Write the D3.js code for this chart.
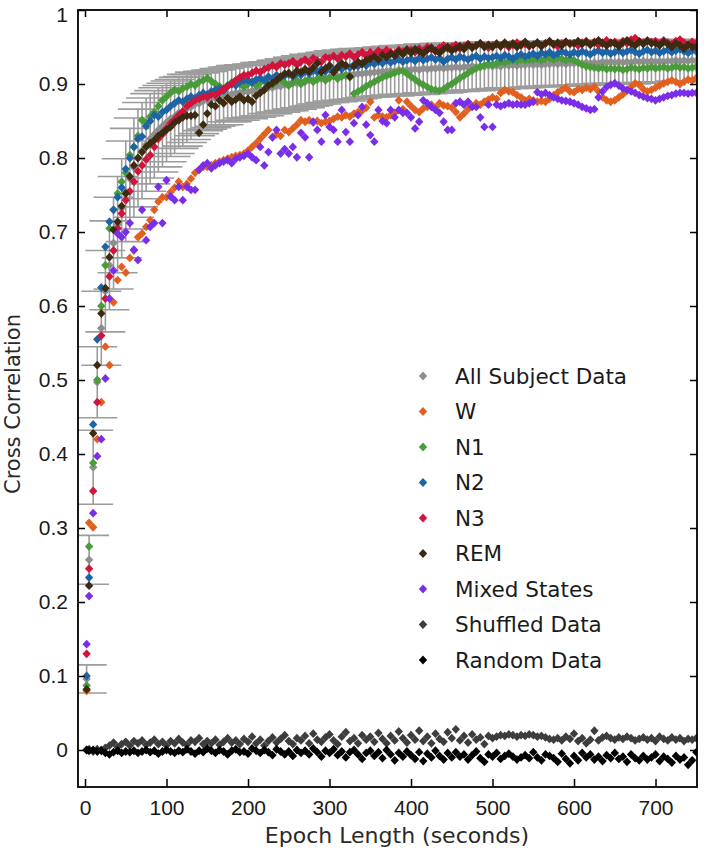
<!DOCTYPE html>
<html><head><meta charset="utf-8">
<script src="https://cdn.jsdelivr.net/npm/d3@7"></script>
<style>body{margin:0;background:#fff}</style>
</head><body>
<svg id="c" width="706" height="853"></svg>
<script>
const epochs = [2,5,10,15,20,25,30,35,40,45,
50,55,60,65,70,75,80,85,90,95,
100,105,110,115,120,125,130,135,140,145,
150,155,160,165,170,175,180,185,190,195,
200,205,210,215,220,225,230,235,240,245,
250,255,260,265,270,275,280,285,290,295,
300,305,310,315,320,325,330,335,340,345,
350,355,360,365,370,375,380,385,390,395,
400,405,410,415,420,425,430,435,440,445,
450,455,460,465,470,475,480,485,490,495,
500,505,510,515,520,525,530,535,540,545,
550,555,560,565,570,575,580,585,590,595,
600,605,610,615,620,625,630,635,640,645,
650,655,660,665,670,675,680,685,690,695,
700,705,710,715,720,725,730,735,740,745,
750];

const allSubject = [.096,.257,.382,.497,.570,.620,.655,.685,.710,.732,
.755,.772,.787,.800,.810,.818,.826,.832,.838,.843,
.848,.853,.856,.861,.863,.867,.869,.873,.874,.877,
.878,.880,.881,.883,.883,.886,.886,.888,.888,.890,
.889,.891,.891,.893,.893,.895,.895,.897,.897,.899,
.899,.901,.901,.903,.903,.905,.905,.907,.907,.909,
.909,.911,.910,.912,.911,.913,.913,.914,.914,.915,
.915,.916,.916,.917,.917,.918,.917,.919,.918,.919,
.919,.920,.919,.921,.920,.921,.921,.922,.921,.922,
.922,.923,.922,.923,.923,.924,.923,.924,.924,.925,
.924,.925,.924,.926,.925,.926,.925,.926,.926,.927,
.926,.927,.926,.927,.927,.928,.927,.928,.927,.928,
.928,.929,.928,.929,.928,.929,.928,.930,.929,.930,
.929,.930,.929,.930,.929,.931,.930,.931,.930,.931,
.930,.931,.930,.931,.931,.932,.931,.932,.931,.932,
.931];

const allSubjectErr = [.019,.033,.050,.048,.050,.055,.060,.062,.065,.067,
.068,.068,.067,.066,.065,.063,.061,.059,.057,.055,
.053,.051,.050,.048,.047,.046,.044,.043,.041,.040,
.039,.039,.038,.038,.038,.037,.037,.037,.037,.036,
.036,.036,.036,.036,.036,.035,.035,.035,.035,.035,
.035,.035,.035,.035,.035,.035,.034,.034,.034,.034,
.034,.034,.034,.034,.034,.034,.034,.034,.033,.033,
.033,.033,.033,.033,.033,.033,.033,.033,.033,.033,
.033,.033,.033,.033,.033,.033,.033,.033,.033,.033,
.032,.032,.032,.032,.032,.032,.032,.032,.032,.032,
.031,.031,.031,.031,.031,.031,.031,.031,.031,.031,
.030,.030,.030,.030,.030,.030,.030,.030,.030,.030,
.030,.030,.030,.029,.029,.029,.029,.029,.029,.029,
.029,.029,.029,.029,.029,.029,.029,.029,.029,.029,
.028,.028,.028,.028,.028,.028,.028,.028,.028,.028,
.028];

const W = [.080,.307,.301,.420,.470,.545,.520,.605,.635,.653,
.645,.665,.675,.693,.698,.707,.716,.730,.741,.747,
.747,.754,.760,.768,.761,.765,.772,.780,.784,.788,
.788,.790,.793,.795,.797,.799,.801,.803,.804,.806,
.810,.815,.820,.826,.832,.838,.828,.832,.830,.838,
.835,.840,.845,.851,.849,.851,.848,.850,.847,.849,
.850,.853,.856,.855,.858,.856,.860,.862,.864,.868,
.876,.855,.858,.856,.855,.858,.861,.878,.866,.876,
.870,.865,.862,.867,.869,.872,.868,.874,.871,.870,
.868,.862,.855,.860,.866,.870,.874,.872,.876,.879,
.882,.880,.888,.892,.890,.889,.885,.882,.878,.880,
.878,.876,.877,.876,.880,.885,.889,.892,.895,.890,
.889,.893,.892,.895,.893,.896,.890,.882,.878,.876,
.878,.882,.886,.891,.896,.901,.899,.893,.890,.892,
.895,.898,.901,.903,.905,.903,.900,.903,.906,.905,
.908];

const N1 = [.087,.275,.388,.500,.600,.655,.705,.730,.752,.768,
.780,.804,.815,.830,.851,.847,.856,.862,.870,.878,
.883,.888,.892,.890,.894,.896,.900,.898,.903,.905,
.908,.904,.900,.897,.894,.898,.902,.905,.900,.896,
.900,.903,.898,.902,.905,.901,.899,.903,.906,.902,
.898,.902,.905,.900,.904,.907,.903,.906,.909,.905,
.908,.911,.907,.910,.912,.909,.887,.890,.893,.897,
.900,.903,.906,.909,.911,.913,.915,.917,.918,.914,
.910,.906,.902,.899,.896,.893,.892,.891,.893,.897,
.900,.904,.908,.911,.915,.918,.921,.923,.925,.927,
.926,.928,.930,.929,.931,.932,.931,.933,.932,.933,
.933,.934,.932,.934,.935,.933,.935,.934,.932,.934,
.932,.929,.926,.924,.923,.922,.921,.922,.920,.921,
.920,.921,.919,.920,.922,.921,.920,.922,.921,.923,
.921,.922,.923,.921,.922,.924,.922,.923,.921,.922,
.923];

const N2 = [.100,.233,.440,.555,.625,.680,.714,.730,.747,.760,
.785,.800,.815,.826,.829,.843,.850,.858,.856,.862,
.865,.870,.874,.878,.876,.880,.883,.881,.885,.888,
.886,.890,.892,.894,.891,.897,.900,.898,.903,.905,
.905,.902,.906,.908,.905,.910,.907,.912,.909,.911,
.913,.910,.915,.912,.917,.914,.918,.916,.920,.917,
.921,.919,.923,.920,.925,.922,.926,.924,.928,.925,
.929,.927,.930,.928,.932,.929,.931,.933,.930,.932,
.934,.931,.935,.932,.934,.936,.933,.935,.930,.934,
.936,.933,.937,.935,.933,.936,.938,.934,.937,.935,
.936,.938,.935,.939,.937,.934,.938,.940,.937,.939,
.941,.938,.942,.940,.943,.939,.941,.944,.942,.940,
.943,.941,.944,.942,.940,.943,.945,.942,.944,.941,
.943,.945,.942,.944,.946,.943,.941,.944,.946,.943,
.945,.942,.944,.946,.943,.945,.947,.944,.942,.945,
.944];

const N3 = [.130,.245,.350,.470,.560,.610,.640,.675,.705,.725,
.743,.755,.768,.782,.790,.798,.804,.815,.826,.832,
.840,.847,.852,.858,.863,.870,.874,.878,.880,.883,
.882,.886,.885,.889,.893,.897,.900,.905,.909,.912,
.912,.915,.918,.916,.920,.922,.925,.923,.928,.926,
.928,.931,.926,.930,.933,.929,.935,.932,.930,.936,
.935,.938,.934,.939,.937,.941,.936,.940,.943,.938,
.943,.940,.945,.942,.946,.943,.941,.946,.944,.947,
.946,.943,.948,.945,.950,.947,.944,.949,.952,.948,
.950,.953,.948,.951,.954,.950,.952,.955,.951,.949,
.952,.955,.951,.954,.950,.953,.956,.952,.954,.951,
.953,.956,.952,.955,.957,.953,.951,.955,.957,.954,
.955,.952,.956,.958,.954,.957,.953,.956,.959,.955,
.957,.954,.958,.955,.960,.962,.958,.956,.959,.957,
.958,.955,.959,.956,.954,.958,.960,.956,.953,.957,
.955];

const REM = [.082,.222,.428,.520,.590,.624,.666,.703,.714,.735,
.752,.775,.790,.800,.808,.815,.820,.824,.830,.834,
.838,.842,.848,.851,.855,.857,.857,.858,.834,.845,
.860,.872,.870,.878,.874,.881,.876,.879,.883,.878,
.880,.876,.884,.888,.892,.898,.901,.905,.910,.914,
.915,.912,.918,.916,.920,.917,.922,.928,.916,.921,
.925,.916,.922,.928,.925,.910,.924,.930,.927,.932,
.934,.937,.933,.939,.936,.941,.938,.944,.940,.946,
.942,.947,.944,.941,.946,.949,.945,.942,.947,.950,
.945,.948,.951,.947,.953,.949,.952,.955,.950,.953,
.950,.954,.951,.956,.952,.955,.950,.953,.957,.952,
.953,.956,.951,.955,.958,.954,.956,.952,.957,.955,
.955,.958,.954,.957,.953,.956,.959,.955,.952,.956,
.955,.951,.956,.959,.955,.952,.957,.954,.958,.955,
.955,.952,.957,.954,.950,.955,.952,.948,.953,.950,
.950];

const mixed = [.143,.208,.320,.397,.420,.502,.610,.648,.698,.693,
.700,.712,.676,.662,.730,.689,.707,.712,.761,.712,
.770,.748,.743,.761,.743,.761,.757,.757,.784,.790,
.793,.786,.790,.793,.795,.797,.793,.799,.801,.803,
.806,.801,.797,.815,.790,.808,.828,.838,.806,.812,
.806,.815,.801,.834,.828,.801,.849,.838,.822,.858,
.842,.838,.822,.865,.835,.822,.847,.858,.869,.845,
.831,.822,.865,.850,.847,.865,.855,.865,.861,.861,
.855,.840,.849,.878,.874,.869,.865,.861,.849,.838,
.838,.874,.876,.872,.876,.869,.869,.855,.842,.872,
.842,.872,.870,.872,.874,.872,.873,.872,.872,.874,
.876,.889,.886,.888,.885,.882,.880,.878,.877,.876,
.874,.872,.869,.867,.865,.866,.882,.890,.896,.899,
.901,.898,.894,.892,.890,.888,.885,.883,.881,.880,
.878,.880,.882,.884,.885,.887,.888,.888,.887,.888,
.888];

const shuffled = [.000,.001,-.002,.001,.000,.003,.006,.010,.004,.008,
.011,.006,.012,.009,.013,.007,.010,.014,.008,.011,
.006,.012,.009,.015,.010,.007,.013,.011,.016,.008,
.012,.009,.014,.007,.011,.016,.010,.013,.008,.015,
.011,.018,.009,.014,.006,.012,.017,.010,.015,.020,
.012,.008,.016,.013,.019,.009,.022,.014,.011,.017,
.021,.013,.008,.018,.024,.012,.016,.009,.020,.014,
.018,.011,.023,.015,.009,.019,.013,.025,.016,.010,
.020,.014,.026,.012,.018,.009,.022,.015,.011,.024,
.016,.028,.013,.019,.010,.021,.014,.017,.008,.019,
.016,.018,.020,.019,.021,.020,.018,.020,.019,.021,
.020,.018,.019,.017,.015,.014,.016,.013,.018,.015,
.022,.012,.016,.009,.014,.026,.013,.017,.019,.016,
.014,.017,.015,.018,.016,.013,.015,.017,.014,.016,
.012,.018,.015,.013,.017,.014,.016,.012,.015,.014,
.016];

const random = [.000,-.001,.000,-.002,-.001,-.004,-.006,-.003,-.001,-.004,
-.002,-.003,-.001,-.004,-.002,.000,-.003,-.001,-.005,-.002,
.000,-.002,-.004,-.001,-.003,.001,-.002,-.005,-.001,-.003,
.002,-.001,-.004,.000,-.002,-.006,-.001,.001,-.003,-.002,
-.005,.002,-.001,-.004,.000,-.003,-.007,.001,-.002,-.006,
-.002,-.008,.000,-.004,-.001,-.006,.002,-.003,-.009,-.001,
-.004,.001,-.007,-.002,-.010,-.003,.000,-.006,-.012,-.004,
-.001,-.008,-.003,-.011,.000,-.006,-.014,-.004,-.009,-.002,
-.007,-.012,-.003,-.015,-.005,-.010,-.001,-.008,-.013,-.004,
-.010,-.003,-.009,-.006,-.013,-.007,-.002,-.011,-.016,-.006,
-.009,-.004,-.012,-.008,-.005,-.009,-.013,-.010,-.007,-.011,
-.003,-.010,-.014,-.006,-.008,-.011,-.016,-.005,-.012,-.018,
-.008,-.014,-.004,-.010,-.006,-.013,-.009,-.015,-.007,-.011,
-.004,-.012,-.009,-.016,-.006,-.011,-.014,-.008,-.013,-.010,
-.006,-.015,-.009,-.012,-.017,-.008,-.013,-.010,-.020,-.014,
-.003];

const seriesNames = ["All Subject Data","W","N1","N2","N3","REM","Mixed States","Shuffled Data","Random Data"];
const seriesColors = ["#8e8e8e","#e2601f","#4a9b3a","#1d64a6","#d0143c","#3d2a10","#7a2ee8","#3d3d3d","#000000"];
const seriesValues = [allSubject, W, N1, N2, N3, REM, mixed, shuffled, random];
const xTicks = [0,100,200,300,400,500,600,700];
const yTicks = [0,0.1,0.2,0.3,0.4,0.5,0.6,0.7,0.8,0.9,1];
const xLabel = "Epoch Length (seconds)";
const yLabel = "Cross Correlation";

const svg = d3.select("#c");
const L = 78, R = 697, T = 10, B = 787;
const x = d3.scaleLinear().domain([-8.6, 750.9]).range([L, R]);
const y = d3.scaleLinear().domain([-0.05, 1]).range([B, T]);
const tickFont = "'Liberation Sans',Arial,sans-serif";
const textFont = "'DejaVu Sans',sans-serif";

svg.append("defs").append("clipPath").attr("id","clip")
  .append("rect").attr("x",L).attr("y",T).attr("width",R-L).attr("height",B-T);

const plot = svg.append("g").attr("clip-path","url(#clip)");

// error bars
const eb = plot.append("g").attr("stroke","#9c9c9c").attr("stroke-width",1.6).attr("fill","none");
const capHalf = 20;
epochs.forEach((e,i)=>{
  const cx = x(e), lo = y(allSubject[i]-allSubjectErr[i]), hi = y(allSubject[i]+allSubjectErr[i]);
  eb.append("line").attr("x1",cx).attr("x2",cx).attr("y1",lo).attr("y2",hi);
  eb.append("line").attr("x1",cx-capHalf).attr("x2",cx+capHalf).attr("y1",lo).attr("y2",lo);
  eb.append("line").attr("x1",cx-capHalf).attr("x2",cx+capHalf).attr("y1",hi).attr("y2",hi);
});

const diamond = "M0,-4.4L4.2,0L0,4.4L-4.2,0Z";
seriesValues.forEach((vals,k)=>{
  plot.append("g").selectAll("path").data(vals).join("path")
    .attr("d",diamond)
    .attr("transform",(v,i)=>`translate(${x(epochs[i])},${y(v)})`)
    .attr("fill",seriesColors[k]);
});

// axes
function styleAxis(g, labels){
  g.select(".domain").remove();
  g.selectAll(".tick line").attr("stroke","#000").attr("stroke-width",1.5);
  g.selectAll(".tick text").attr("fill","#1a1a1a").style("font-family",tickFont).style("font-size","21px");
  if(!labels) g.selectAll(".tick text").remove();
}
const yFmt = d => d===0 ? "0" : d===1 ? "1" : d3.format(".1f")(d);
svg.append("g").attr("transform",`translate(0,${B})`)
  .call(d3.axisBottom(x).tickValues(xTicks).tickSize(-8).tickPadding(13).tickFormat(d3.format("d")))
  .call(g=>styleAxis(g,true));
svg.append("g").attr("transform",`translate(0,${T})`)
  .call(d3.axisTop(x).tickValues(xTicks).tickSize(-7).tickFormat(""))
  .call(g=>styleAxis(g,false));
svg.append("g").attr("transform",`translate(${L},0)`)
  .call(d3.axisLeft(y).tickValues(yTicks).tickSize(-7).tickPadding(10).tickFormat(yFmt))
  .call(g=>styleAxis(g,true))
  .call(g=>g.selectAll(".tick text").filter(d=>d===1).attr("dy","0.55em"));
svg.append("g").attr("transform",`translate(${R},0)`)
  .call(d3.axisRight(y).tickValues(yTicks).tickSize(-7).tickFormat(""))
  .call(g=>styleAxis(g,false));

svg.append("rect").attr("x",L).attr("y",T).attr("width",R-L).attr("height",B-T)
  .attr("fill","none").attr("stroke","#000").attr("stroke-width",1.8);

svg.append("text").attr("x",397).attr("y",843).attr("text-anchor","middle")
  .style("font-family",textFont).style("font-size","22px").attr("fill","#2a2a2a").text(xLabel);
svg.append("text").attr("transform","translate(20,404) rotate(-90)").attr("text-anchor","middle")
  .style("font-family",textFont).style("font-size","21px").attr("fill","#2a2a2a").text(yLabel);

// legend
const leg = svg.append("g");
const legY0 = 376, legDy = 35.5;
seriesNames.forEach((n,k)=>{
  const yy = legY0 + k*legDy;
  leg.append("path").attr("d",diamond).attr("transform",`translate(423,${yy})`).attr("fill",seriesColors[k]);
  leg.append("text").attr("x",455).attr("y",yy).attr("dy","0.36em")
    .style("font-family",textFont).style("font-size","21.5px").attr("fill","#1a1a1a").text(n);
});
</script>
</body></html>
